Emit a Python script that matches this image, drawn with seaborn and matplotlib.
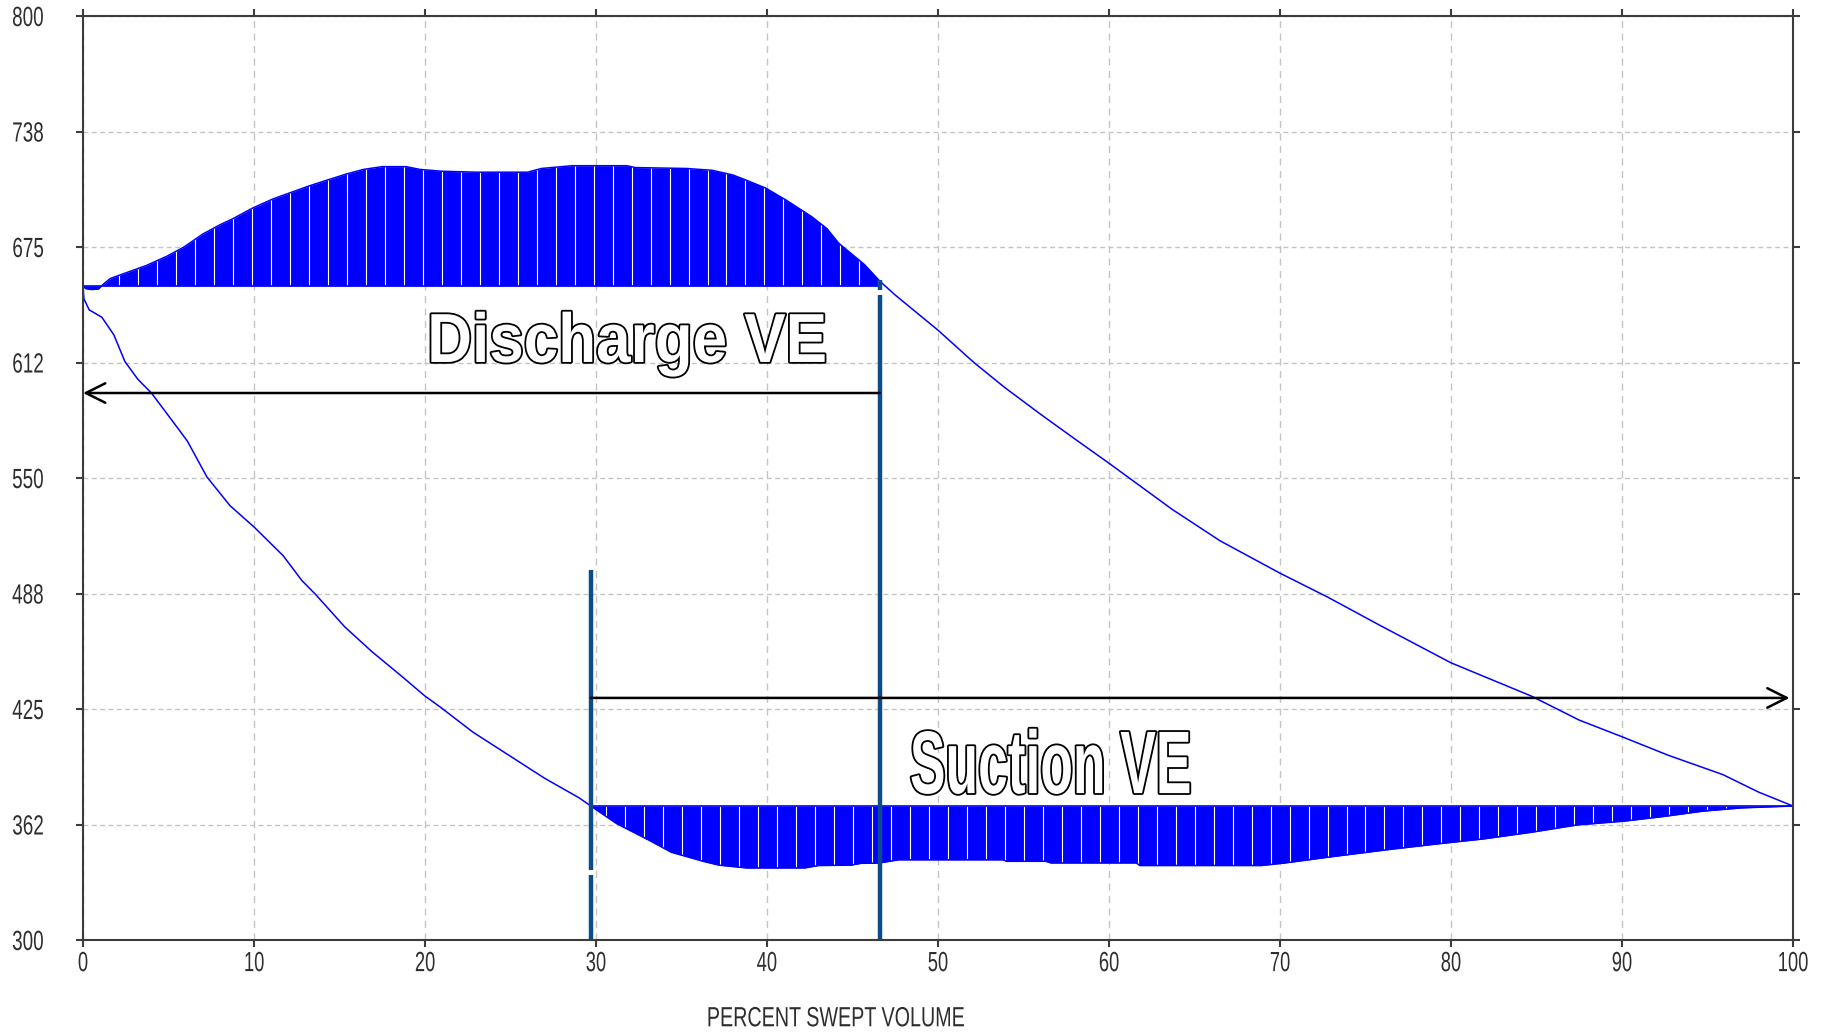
import numpy as np
import pandas as pd
import matplotlib
matplotlib.use("Agg")
import matplotlib.pyplot as plt
import matplotlib.patheffects as pe
from matplotlib.transforms import Affine2D
import seaborn as sns

# ---- Cylinder pressure vs. percent swept volume (one compressor cycle) ----
# Discharge event (top of the loop), left to right
discharge_x = [0.0, 0.15, 0.5, 0.9, 1.2, 1.6, 2.5, 3.7, 4.9, 5.9, 7.0, 8.0, 8.8, 9.9,
               11.1, 12.3, 13.2, 14.2, 15.4, 16.4, 17.5, 18.9, 19.7, 21.0, 23.0, 26.0,
               26.8, 28.6, 31.8, 32.3, 35.3, 36.8, 38.0, 38.7, 39.9, 41.1, 42.6, 43.5,
               44.2, 45.7, 46.6]
discharge_p = [654.0, 652.5, 652.0, 652.3, 655.0, 658.0, 661.0, 665.0, 670.0, 675.0,
               682.0, 687.0, 690.5, 696.0, 701.0, 705.0, 708.0, 711.0, 714.5, 717.0,
               718.5, 718.5, 717.0, 716.0, 715.5, 715.5, 717.5, 719.0, 719.0, 718.0,
               717.5, 716.5, 714.0, 711.5, 707.0, 700.5, 691.5, 685.0, 677.0, 665.5,
               656.5]

# Compression stroke, from discharge valve closing down to bottom dead centre
compression_x = [46.6, 46.9, 47.5, 50.0, 52.1, 53.9, 56.0, 58.1, 60.0, 63.7, 66.5,
                 70.0, 72.8, 75.9, 80.0, 84.7, 87.5, 90.0, 92.7, 95.9, 98.0, 100.0]
compression_p = [656.5, 654.0, 649.0, 630.0, 612.5, 599.0, 584.5, 570.5, 558.0, 533.0,
                 516.0, 498.5, 485.5, 470.0, 450.0, 432.0, 419.0, 410.0, 400.0, 389.5,
                 380.0, 372.5]

# Suction event (bottom of the loop)
suction_x = [29.7, 31.2, 33.1, 34.4, 36.3, 37.2, 38.8, 42.2, 43.0, 44.9, 45.5, 46.5,
             47.7, 53.8, 54.0, 56.3, 56.6, 61.6, 61.8, 68.9, 70.3, 72.8, 76.4, 79.2,
             81.9, 84.7, 87.4, 90.1, 92.4, 94.7, 97.0, 100.0]
suction_p = [372.5, 363.0, 354.0, 347.5, 342.5, 340.5, 339.0, 339.0, 340.3, 340.5,
             341.5, 341.6, 343.4, 343.4, 342.6, 342.6, 341.7, 341.7, 340.3, 340.3,
             341.7, 344.8, 349.0, 352.0, 354.7, 358.3, 362.3, 364.3, 366.8, 369.7,
             371.5, 372.5]

# Re-expansion of clearance gas
expansion_x = [0.0, 0.05, 0.36, 1.1, 1.8, 2.45, 3.2, 4.0, 5.5, 6.1, 7.25, 8.6, 10.0,
               11.7, 12.8, 13.6, 15.3, 16.9, 18.6, 20.0, 20.9, 22.8, 24.9, 27.0, 29.0,
               29.7]
expansion_p = [654.0, 647.0, 641.0, 637.0, 627.5, 613.0, 603.5, 596.0, 577.5, 570.0,
               550.5, 535.0, 523.5, 508.0, 494.5, 487.0, 469.5, 456.0, 443.0, 432.0,
               426.0, 412.5, 400.0, 387.5, 377.0, 372.5]

discharge_line = 654.0
suction_line = 372.5
discharge_ve_end = 46.6
suction_ve_start = 29.7
discharge_arrow_p = 596.0
suction_arrow_p = 431.0

x_ticks = [0, 10, 20, 30, 40, 50, 60, 70, 80, 90, 100]
y_ticks = [300, 362.5, 425, 487.5, 550, 612.5, 675, 737.5, 800]
y_tick_labels = ["300", "362", "425", "488", "550", "612", "675", "738", "800"]

BLUE = "#0000FF"
MARKER = "#0D4C8B"
INK = "#2E2E2E"


class Condensed(pe.AbstractPathEffect):
    """Draw text narrowed horizontally about an anchor (0=left, 0.5=centre, 1=right)."""

    def __init__(self, sx, anchor=0.0, effects=None):
        super().__init__()
        self._sx = sx
        self._anchor = anchor
        self._effects = effects if effects is not None else [pe.Normal()]

    def draw_path(self, renderer, gc, tpath, affine, rgbFace=None):
        ext = tpath.get_extents()
        x0 = ext.x0 + self._anchor * ext.width
        squeeze = Affine2D().translate(-x0, 0).scale(self._sx, 1.0).translate(x0, 0)
        for eff in self._effects:
            eff.draw_path(renderer, gc, tpath, squeeze + affine, rgbFace)


sns.set_theme(style="white")
plt.rcParams["font.family"] = ["Liberation Sans", "DejaVu Sans"]
plt.rcParams["lines.scale_dashes"] = False

fig = plt.figure(figsize=(18.29, 10.34), dpi=100)
ax = fig.add_axes([0.0454, 0.0909, 0.9803 - 0.0454, 0.9845 - 0.0909])

# dashed grid
ax.set_axisbelow(True)
ax.xaxis.grid(True, color="#C4C4C4", linewidth=1.0, linestyle=(0, (5, 4)))
ax.yaxis.grid(True, color="#C4C4C4", linewidth=1.0, linestyle=(0, (3.5, 2.5)))


def add_hatch(coll, x0, x1, y0, y1):
    xs = np.arange(x0, x1, 1.11)
    lc = ax.vlines(xs, y0, y1, colors="white", linewidth=0.8, zorder=2.1)
    lc.set_clip_path(coll.get_paths()[0], ax.transData)


# discharge and suction work areas
top_fill = ax.fill_between(discharge_x, discharge_line, discharge_p, color=BLUE,
                           linewidth=0, zorder=2)
add_hatch(top_fill, 1.0, discharge_ve_end, 640, 730)
bot_fill = ax.fill_between(suction_x, suction_p, suction_line, color=BLUE,
                           linewidth=0, zorder=2)
add_hatch(bot_fill, suction_ve_start + 0.9, 100, 330, 380)

ax.hlines(discharge_line, 0, discharge_ve_end, color=BLUE, linewidth=1.2, zorder=3)
ax.hlines(suction_line, suction_ve_start, 100, color=BLUE, linewidth=1.2, zorder=3)

# pressure trace
for xs, ps in [(discharge_x, discharge_p), (compression_x, compression_p),
               (suction_x, suction_p), (expansion_x, expansion_p)]:
    sns.lineplot(x=xs, y=ps, sort=False, estimator=None, color=BLUE,
                 linewidth=1.1, ax=ax, zorder=3)

# volumetric-efficiency markers
ax.vlines(discharge_ve_end, 300, 649, color=MARKER, linewidth=3.2, zorder=4)
ax.vlines(discharge_ve_end, 651.5, 657, color=MARKER, linewidth=3.2, zorder=4)
ax.vlines(suction_ve_start, 300, 335, color=MARKER, linewidth=3.2, zorder=4)
ax.vlines(suction_ve_start, 338, 500, color=MARKER, linewidth=3.2, zorder=4)

arrow_kw = dict(arrowstyle="->,head_length=0.7,head_width=0.35", color="black",
                lw=1.8, shrinkA=0, shrinkB=0, mutation_scale=20)
ax.annotate("", xy=(0, discharge_arrow_p), xytext=(discharge_ve_end, discharge_arrow_p),
            arrowprops=arrow_kw, annotation_clip=False, zorder=5)
ax.annotate("", xy=(99.8, suction_arrow_p), xytext=(suction_ve_start, suction_arrow_p),
            arrowprops=arrow_kw, annotation_clip=False, zorder=5)

outline = [pe.Stroke(linewidth=2.6, foreground="black"), pe.Normal()]
ax.text(20.1, 612.8, "Discharge VE", fontsize=50, fontweight="bold", color="white",
        ha="left", va="baseline", zorder=6,
        path_effects=[Condensed(0.893, 0.0, outline)])
ax.text(48.3, 379.5, "Suction VE", fontsize=64, fontweight="bold", color="white",
        ha="left", va="baseline", zorder=6,
        path_effects=[Condensed(0.60, 0.0, outline)])

# axes, ticks, labels
ax.set_xlim(0, 100)
ax.set_ylim(300, 800)
ax.set_xticks(x_ticks, labels=[str(t) for t in x_ticks])
ax.set_yticks(y_ticks, labels=y_tick_labels)
ax.tick_params(axis="both", which="major", direction="out", length=5, width=1.5,
               color="#3C3C3C", labelcolor=INK, labelsize=20,
               top=True, right=True, bottom=True, left=True,
               labeltop=False, labelright=False)
ax.tick_params(axis="y", pad=23)
ax.tick_params(axis="x", pad=3)
for lab in ax.get_yticklabels():
    lab.set_path_effects([Condensed(0.68, 1.0)])
for lab in ax.get_xticklabels():
    lab.set_path_effects([Condensed(0.66, 0.5)])

ax.set_xlabel("PERCENT SWEPT VOLUME", fontsize=20, color=INK, x=0.44, labelpad=21)
ax.xaxis.label.set_path_effects([Condensed(0.71, 0.5)])
ax.set_ylabel("")

for side in ["left", "right", "top", "bottom"]:
    ax.spines[side].set_visible(True)
    ax.spines[side].set_color("#3C3C3C")
    ax.spines[side].set_linewidth(1.5)
    ax.spines[side].set_zorder(7)

fig.savefig("out.png", dpi=100, facecolor="white")
